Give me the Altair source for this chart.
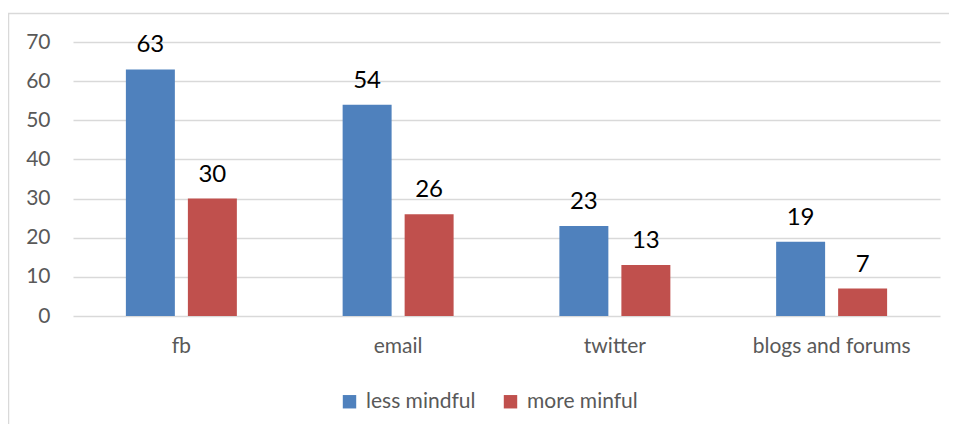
import altair as alt
import pandas as pd

categories = ["fb", "email", "twitter", "blogs and forums"]
series = ["less mindful", "more minful"]
less_mindful = [63, 54, 23, 19]
more_minful = [30, 26, 13, 7]
y_ticks = [0, 10, 20, 30, 40, 50, 60, 70]

rows = []
for c, a, b in zip(categories, less_mindful, more_minful):
    rows.append({"cat": c, "series": series[0], "value": a})
    rows.append({"cat": c, "series": series[1], "value": b})
df = pd.DataFrame(rows)

FONT = "Lato"
W, H = 867, 274

x = alt.X("cat:N", sort=categories, title=None,
          scale=alt.Scale(paddingInner=0, paddingOuter=0),
          axis=alt.Axis(labelAngle=0, labelFontSize=21, labelColor="#595959",
                        labelFont=FONT, ticks=False, domain=False, labelPadding=19))
xo = alt.XOffset("series:N", sort=series,
                 scale=alt.Scale(paddingInner=0.21, paddingOuter=0.853))
y = alt.Y("value:Q", title=None,
          scale=alt.Scale(domain=[0, 70], nice=False),
          axis=alt.Axis(values=y_ticks, labelFontSize=21, labelColor="#595959",
                        labelFont=FONT, ticks=False, domain=False, labelPadding=23,
                        labelOverlap=False, labelBound=False,
                        gridColor="#d9d9d9", gridWidth=1.5))
color = alt.Color("series:N", sort=series, title=None,
                  scale=alt.Scale(domain=series, range=["#4f81bd", "#c0504d"]),
                  legend=alt.Legend(orient="none", legendX=266, legendY=349,
                                    direction="horizontal", symbolType="square",
                                    symbolSize=180, symbolStrokeWidth=0,
                                    labelFontSize=21, labelFont=FONT,
                                    labelColor="#595959", labelOffset=6,
                                    columnPadding=24))

base = alt.Chart(df)
bars = base.mark_bar().encode(x=x, xOffset=xo, y=y, color=color)
labels = base.mark_text(fontSize=24, font=FONT, color="#000000",
                        baseline="alphabetic", dy=-17).encode(
    x=x, xOffset=xo, y=y, text="value:Q")

border = alt.Chart(pd.DataFrame({"a": [0]})).mark_rect(
    fill=None, stroke="#d9d9d9", strokeWidth=1.5).encode(
    x=alt.value(-64.5), x2=alt.value(W + 200), y=alt.value(-28.5), y2=alt.value(H + 300))

chart = alt.layer(border, bars, labels).properties(
    width=W, height=H,
    background="white",
    autosize=alt.AutoSizeParams(type="none"),
    padding={"left": 65, "top": 34, "right": 9, "bottom": 108},
).configure_view(stroke=None, strokeWidth=0)

chart.save("out.html", embed_options={"renderer": "svg", "actions": False})
